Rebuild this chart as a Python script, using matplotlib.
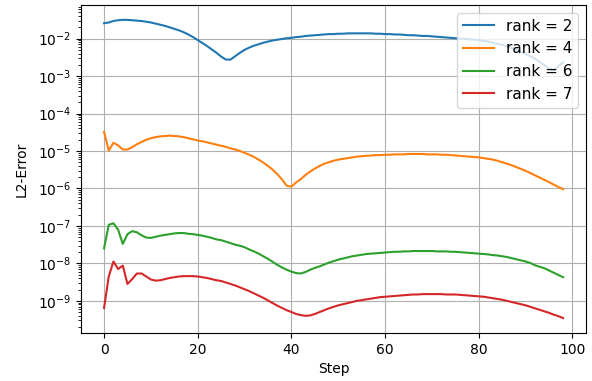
import numpy as np
import matplotlib
matplotlib.use("Agg")
import matplotlib.pyplot as plt

# log10 of the L2 error per step
steps = np.arange(99)

rank2_log = [
    -1.59, -1.57, -1.53, -1.51, -1.50, -1.50, -1.51, -1.52, -1.53, -1.55,
    -1.57, -1.60, -1.63, -1.66, -1.70, -1.74, -1.78, -1.83, -1.89, -1.96,
    -2.04, -2.12, -2.20, -2.29, -2.38, -2.48, -2.56, -2.56, -2.47, -2.38,
    -2.30, -2.24, -2.19, -2.15, -2.11, -2.08, -2.05, -2.03, -2.01, -1.99,
    -1.98, -1.96, -1.95, -1.93, -1.92, -1.91, -1.90, -1.89, -1.88, -1.88,
    -1.87, -1.87, -1.86, -1.86, -1.86, -1.86, -1.86, -1.86, -1.87, -1.87,
    -1.88, -1.88, -1.89, -1.89, -1.90, -1.91, -1.91, -1.92, -1.93, -1.93,
    -1.94, -1.95, -1.96, -1.97, -1.98, -1.99, -2.00, -2.01, -2.02, -2.03,
    -2.04, -2.06, -2.08, -2.11, -2.14, -2.17, -2.21, -2.25, -2.30, -2.35,
    -2.41, -2.47, -2.54, -2.62, -2.71, -2.80, -2.84, -2.74, -2.63,
]

rank4_log = [
    -4.49, -4.99, -4.78, -4.85, -4.96, -4.96, -4.90, -4.82, -4.76, -4.70,
    -4.66, -4.63, -4.61, -4.60, -4.59, -4.60, -4.61, -4.63, -4.66, -4.69,
    -4.72, -4.74, -4.77, -4.80, -4.83, -4.86, -4.89, -4.93, -4.96, -5.00,
    -5.05, -5.10, -5.16, -5.23, -5.31, -5.40, -5.50, -5.62, -5.76, -5.93,
    -5.95, -5.84, -5.75, -5.64, -5.55, -5.47, -5.40, -5.34, -5.30, -5.26,
    -5.23, -5.21, -5.19, -5.17, -5.15, -5.14, -5.13, -5.12, -5.11, -5.11,
    -5.10, -5.10, -5.09, -5.09, -5.09, -5.08, -5.08, -5.08, -5.08, -5.09,
    -5.09, -5.09, -5.10, -5.10, -5.11, -5.12, -5.13, -5.14, -5.15, -5.16,
    -5.17, -5.19, -5.21, -5.23, -5.26, -5.30, -5.34, -5.38, -5.43, -5.48,
    -5.53, -5.59, -5.65, -5.71, -5.77, -5.83, -5.90, -5.96, -6.02,
]

rank6_log = [
    -7.60, -6.97, -6.93, -7.10, -7.48, -7.22, -7.14, -7.17, -7.25, -7.31,
    -7.32, -7.29, -7.26, -7.24, -7.22, -7.20, -7.19, -7.19, -7.21, -7.22,
    -7.24, -7.26, -7.29, -7.32, -7.36, -7.38, -7.42, -7.46, -7.50, -7.53,
    -7.57, -7.63, -7.68, -7.74, -7.81, -7.88, -7.96, -8.04, -8.11, -8.17,
    -8.22, -8.26, -8.27, -8.23, -8.17, -8.12, -8.08, -8.03, -7.98, -7.94,
    -7.90, -7.87, -7.84, -7.81, -7.79, -7.77, -7.75, -7.74, -7.73, -7.72,
    -7.71, -7.70, -7.69, -7.69, -7.68, -7.68, -7.67, -7.67, -7.67, -7.67,
    -7.67, -7.68, -7.68, -7.68, -7.69, -7.69, -7.70, -7.71, -7.72, -7.73,
    -7.74, -7.75, -7.76, -7.78, -7.79, -7.81, -7.83, -7.86, -7.89, -7.92,
    -7.95, -7.99, -8.05, -8.09, -8.13, -8.19, -8.25, -8.31, -8.37,
]

rank7_log = [
    -9.19, -8.35, -7.95, -8.15, -8.06, -8.55, -8.42, -8.27, -8.27, -8.35,
    -8.43, -8.46, -8.45, -8.42, -8.39, -8.37, -8.35, -8.34, -8.34, -8.34,
    -8.35, -8.37, -8.39, -8.42, -8.45, -8.47, -8.51, -8.55, -8.59, -8.64,
    -8.69, -8.74, -8.80, -8.86, -8.92, -8.99, -9.06, -9.13, -9.19, -9.25,
    -9.30, -9.35, -9.38, -9.40, -9.39, -9.35, -9.30, -9.25, -9.20, -9.16,
    -9.12, -9.09, -9.06, -9.03, -9.00, -8.98, -8.96, -8.94, -8.92, -8.90,
    -8.89, -8.88, -8.87, -8.86, -8.85, -8.84, -8.83, -8.83, -8.82, -8.82,
    -8.82, -8.82, -8.82, -8.83, -8.83, -8.83, -8.84, -8.85, -8.86, -8.87,
    -8.88, -8.89, -8.91, -8.93, -8.95, -8.97, -9.00, -9.03, -9.06, -9.09,
    -9.12, -9.16, -9.20, -9.24, -9.28, -9.32, -9.37, -9.41, -9.46,
]

ranks = [2, 4, 6, 7]
series = [rank2_log, rank4_log, rank6_log, rank7_log]

fig = plt.figure(figsize=(5.92, 3.81), dpi=100)
ax = fig.add_axes([0.137, 0.126, 0.853, 0.861])

for r, vals in zip(ranks, series):
    ax.plot(steps, 10.0 ** np.array(vals), label=f"rank = {r}")

ax.set_yscale("log")
ax.set_xlabel("Step")
ax.set_ylabel("L2-Error", labelpad=7)
ax.grid(True)
ax.legend(loc="upper right", fontsize=11)

fig.savefig("out.png", dpi=100)
